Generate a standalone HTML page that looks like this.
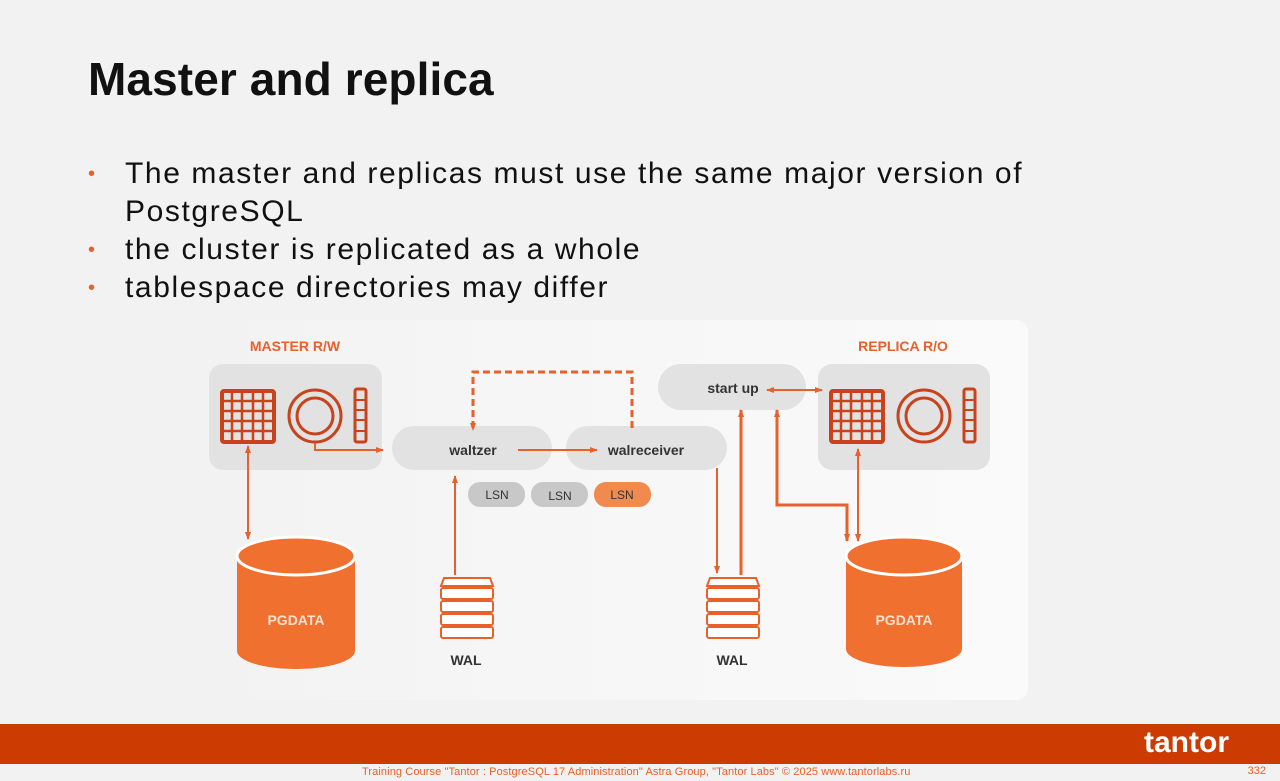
<!DOCTYPE html>
<html><head><meta charset="utf-8"><style>
body{margin:0;width:1280px;height:781px;background:#f2f2f2;font-family:"Liberation Sans",sans-serif;position:relative;overflow:hidden}
h1{position:absolute;left:88px;top:52px;margin:0;font-size:46px;font-weight:bold;color:#111;letter-spacing:0.1px}
ul{position:absolute;left:88px;top:155px;margin:0;padding:0;list-style:none;font-size:30px;color:#111;line-height:38px;letter-spacing:1.6px}
li{position:relative;padding-left:37px}
li:before{content:"•";position:absolute;left:0;color:#e8602a;font-size:20px}
.bar{position:absolute;left:0;top:724px;width:1280px;height:40px;background:#cc3c02}
.foot{position:absolute;top:766px;left:362px;font-size:11px;color:#e8602a;letter-spacing:0.1px}
.pg{position:absolute;top:765px;right:14px;font-size:11px;color:#e8602a}
.logo{position:absolute;left:1144px;top:726px;color:#fff;font-size:30px;font-weight:bold}
</style></head><body>
<h1>Master and replica</h1>
<ul>
<li>The master and replicas must use the same major version of<br>PostgreSQL</li>
<li>the cluster is replicated as a whole</li>
<li>tablespace directories may differ</li>
</ul>
<svg width="1280" height="781" style="position:absolute;left:0;top:0" font-family="Liberation Sans,sans-serif">
<defs>
<linearGradient id="pg" x1="0" x2="1"><stop offset="0" stop-color="#f2f2f2"/><stop offset="0.4" stop-color="#f6f6f6"/><stop offset="1" stop-color="#fafafa"/></linearGradient>
<marker id="a" markerWidth="8" markerHeight="8" refX="7" refY="4" orient="auto-start-reverse" markerUnits="userSpaceOnUse"><path d="M0,1 L8,4 L0,7 z" fill="#e8602a"/></marker>
</defs>
<rect x="200" y="320" width="828" height="380" rx="12" fill="url(#pg)"/>
<text x="295" y="351" text-anchor="middle" font-size="14" font-weight="bold" fill="#e8602a">MASTER R/W</text>
<text x="903" y="351" text-anchor="middle" font-size="14" font-weight="bold" fill="#e8602a">REPLICA R/O</text>
<rect x="209" y="364" width="173" height="106" rx="14" fill="#e2e2e2"/>
<rect x="818" y="364" width="172" height="106" rx="14" fill="#e2e2e2"/>
<rect x="392" y="426" width="160" height="44" rx="22" fill="#e2e2e2"/>
<rect x="566" y="426" width="161" height="44" rx="22" fill="#e2e2e2"/>
<rect x="658" y="364" width="148" height="46" rx="23" fill="#e2e2e2"/>
<g font-size="14" fill="#333" text-anchor="middle" font-weight="bold">
<text x="473" y="455">waltzer</text><text x="646" y="455">walreceiver</text><text x="733" y="393">start up</text>
</g>
<rect x="468" y="482" width="57" height="25" rx="12" fill="#c8c8c8"/>
<rect x="531" y="482" width="57" height="25" rx="12" fill="#c8c8c8"/>
<rect x="594" y="482" width="57" height="25" rx="12" fill="#f08a4e"/>
<g font-size="12" fill="#333" text-anchor="middle"><text x="497" y="499">LSN</text><text x="560" y="500">LSN</text><text x="622" y="499">LSN</text></g>
<g id="ic" stroke="#c8431c" fill="none">
<rect x="222" y="391" width="52" height="51" rx="2" stroke-width="4"/>
<path d="M232,391v51M242,391v51M253,391v51M263,391v51M222,401h52M222,411h52M222,421h52M222,431h52" stroke-width="2.5"/>
<circle cx="315" cy="416" r="26" stroke-width="3"/><circle cx="315" cy="416" r="18" stroke-width="3"/>
<rect x="355" y="389" width="11" height="53" rx="2" stroke-width="3"/>
<path d="M355,400h11M355,410h11M355,420h11M355,431h11" stroke-width="2"/>
</g>
<use href="#ic" x="609" y="0"/>
<g fill="#f07030">
<path d="M237,556 v95 a59,18 0 0 0 118,0 v-95 z"/><ellipse cx="296" cy="556" rx="59" ry="19" stroke="#fff" stroke-width="3"/>
<path d="M846,556 v93 a58,18 0 0 0 116,0 v-93 z"/><ellipse cx="904" cy="556" rx="58" ry="19" stroke="#fff" stroke-width="3"/>
</g>
<g font-size="14" font-weight="bold" fill="#fde0d0" text-anchor="middle"><text x="296" y="625">PGDATA</text><text x="904" y="625">PGDATA</text></g>
<g id="w" stroke="#e8602a" stroke-width="2" fill="#fff">
<path d="M444,578 h46 l3,8 h-52 z"/>
<rect x="441" y="588" width="52" height="11" rx="2"/><rect x="441" y="601" width="52" height="11" rx="2"/><rect x="441" y="614" width="52" height="11" rx="2"/><rect x="441" y="627" width="52" height="11" rx="2"/>
</g>
<use href="#w" x="266" y="0"/>
<g font-size="14" font-weight="bold" fill="#333" text-anchor="middle"><text x="466" y="665">WAL</text><text x="732" y="665">WAL</text></g>
<g stroke="#e8602a" stroke-width="2" fill="none">
<path d="M248,446 V539" marker-start="url(#a)" marker-end="url(#a)"/>
<path d="M315,443 V450 H383" marker-end="url(#a)"/>
<path d="M518,450 H597" marker-end="url(#a)"/>
<path d="M632,428 V372 H473 V430" stroke-width="3" stroke-dasharray="7,4" marker-end="url(#a)"/>
<path d="M455,575 V476" marker-end="url(#a)"/>
<path d="M717,468 V573" marker-end="url(#a)"/>
<path d="M741,575 V410" stroke-width="3" marker-end="url(#a)"/>
<path d="M767,390 H822" marker-start="url(#a)" marker-end="url(#a)"/>
<path d="M777,410 V505 H847 V541" stroke-width="3" marker-start="url(#a)" marker-end="url(#a)"/>
<path d="M858,449 V541" marker-start="url(#a)" marker-end="url(#a)"/>
</g>
</svg>
<div class="bar"></div>
<div class="logo">tantor</div>
<div class="foot">Training Course "Tantor : PostgreSQL 17 Administration" Astra Group, "Tantor Labs" © 2025 www.tantorlabs.ru</div>
<div class="pg">332</div>
</body></html>
